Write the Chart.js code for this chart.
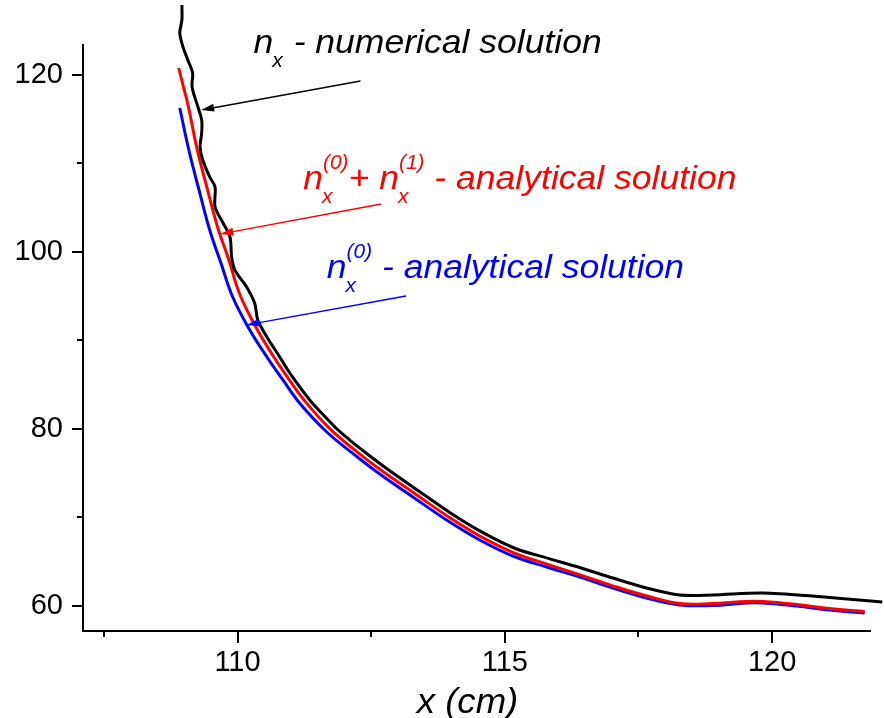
<!DOCTYPE html>
<html><head><meta charset="utf-8">
<script src="https://cdn.jsdelivr.net/npm/chart.js@4/dist/chart.umd.min.js"></script>
<style>html,body{margin:0;padding:0;background:#fff}#wrap{width:884px;height:718px}</style>
</head><body><div id="wrap"><canvas id="c" width="884" height="718"></canvas></div>
<script>
// ---- axis ticks ----
const xMajorTicks = [110, 115, 120];
const xMinorTicks = [107.5, 112.5, 117.5];
const yMajorTicks = [60, 80, 100, 120];
const yMinorTicks = [70, 90, 110];
const xRange = [107.11, 121.83];
const yRange = [57.14, 123.39];
const xTitle = 'x (cm)';

// ---- n_x numerical solution (black) ----
const numX = [108.96,108.96,108.92,108.98,109.07,109.16,109.15,109.26,109.33,109.33,109.30,109.35,109.48,109.58,109.58,109.73,109.86,109.89,109.95,110.17,110.32,110.38,110.55,110.79,110.94,111.11,111.35,111.59,111.84,112.10,112.38,112.75,113.36,113.99,114.60,115.21,115.83,116.40,117.02,117.65,118.27,118.88,119.82,120.75,122.06];
const numY = [127.91,126.22,124.75,123.17,121.70,120.23,118.64,116.38,114.91,113.44,111.86,110.39,108.47,107.34,105.08,103.27,101.68,99.42,97.95,96.03,94.22,92.30,90.38,88.12,86.65,85.18,83.26,81.67,80.09,78.73,77.38,75.68,73.08,70.46,68.23,66.44,65.32,64.32,63.13,62.00,61.21,61.21,61.44,61.10,60.42];

// ---- n_x^(0) + n_x^(1) analytical (red) ----
const corrX = [108.90,108.99,109.08,109.24,109.43,109.63,109.84,110.04,110.34,110.64,110.93,111.24,111.73,112.33,112.70,113.32,113.95,114.56,115.17,115.80,116.41,117.03,117.66,118.27,118.88,119.52,119.82,120.45,121.07,121.73];
const corrY = [120.79,118.64,116.47,111.74,107.25,102.76,99.06,95.24,91.53,88.49,85.88,83.28,80.00,76.94,75.26,72.66,70.03,67.78,65.98,64.68,63.48,62.22,61.09,60.25,60.25,60.47,60.47,60.14,59.68,59.34];

// ---- n_x^(0) analytical (blue) ----
const zeroX = [108.92,109.09,109.28,109.48,109.69,109.91,110.23,110.55,110.85,111.16,111.67,112.29,112.66,113.28,113.91,114.53,115.15,115.78,116.40,117.02,117.65,118.27,118.88,119.52,119.82,120.45,121.07,121.73];
const zeroY = [116.27,111.52,107.00,102.48,98.74,94.90,91.17,88.12,85.52,82.92,79.64,76.59,74.89,72.29,69.69,67.43,65.62,64.38,63.24,62.00,60.87,60.08,60.02,60.31,60.31,59.97,59.51,59.17];

// ---- annotation anchors (data units) ----
const noteAnchors = [
  {color:'#000000', x:110.30, y:122.49, parts:[['n'],['stack',null,'x'],[' - numerical solution']], tail:[112.30,119.32], tip:[109.32,116.04]},
  {color:'#ff0000', x:111.23, y:107.11, parts:[['n'],['stack','(0)','x'],['+ '],['n'],['stack','(1)','x'],[' - analytical solution']], tail:[112.69,105.42], tip:[109.68,102.02]},
  {color:'#0000ff', x:111.67, y:97.05, parts:[['n'],['stack','(0)','x'],[' - analytical solution']], tail:[113.15,95.01], tip:[110.17,91.74]}
];

const pts = (xs, ys) => xs.map((v, i) => ({x: v, y: ys[i]}));
const FAM = '"Liberation Sans", Arial, sans-serif';
const STRETCH = 1.045;

const decor = {
  id: 'decor',
  afterDatasetsDraw(chart) {
    const ctx = chart.ctx, xs = chart.scales.x, ys = chart.scales.y;
    const ca = chart.chartArea;
    ctx.save();
    ctx.strokeStyle = '#000'; ctx.lineWidth = 2; ctx.lineCap = 'butt';
    const tick = (x1, y1, x2, y2) => { ctx.beginPath(); ctx.moveTo(x1, y1); ctx.lineTo(x2, y2); ctx.stroke(); };
    xMajorTicks.forEach(v => { const p = Math.round(xs.getPixelForValue(v)); tick(p, ca.bottom, p, ca.bottom + 12); });
    xMinorTicks.forEach(v => { const p = Math.round(xs.getPixelForValue(v)); tick(p, ca.bottom, p, ca.bottom + 6); });
    yMajorTicks.forEach(v => { const p = Math.round(ys.getPixelForValue(v)); tick(ca.left - 11, p, ca.left, p); });
    yMinorTicks.forEach(v => { const p = Math.round(ys.getPixelForValue(v)); tick(ca.left - 6, p, ca.left, p); });

    // x axis title
    ctx.fillStyle = '#000';
    ctx.font = 'italic 35px ' + FAM;
    ctx.textBaseline = 'alphabetic'; ctx.textAlign = 'center';
    ctx.save();
    ctx.translate((ca.left + ca.right) / 2 - 9, ca.bottom + 82);
    ctx.scale(STRETCH, 1);
    ctx.fillText(xTitle, 0, 0);
    ctx.restore();

    // annotations
    noteAnchors.forEach(a => {
      ctx.fillStyle = a.color; ctx.strokeStyle = a.color;
      const ox = xs.getPixelForValue(a.x);
      const by = ys.getPixelForValue(a.y);
      ctx.save();
      ctx.translate(ox, by);
      ctx.scale(STRETCH, 1);
      ctx.textBaseline = 'alphabetic'; ctx.textAlign = 'left';
      let px = 0;
      a.parts.forEach(p => {
        if (p[0] === 'stack') {
          ctx.font = 'italic 20px ' + FAM;
          let w = 0;
          if (p[1]) { ctx.fillText(p[1], px, -20); w = Math.max(w, ctx.measureText(p[1]).width); }
          if (p[2]) { ctx.fillText(p[2], px - 1, 14); w = Math.max(w, ctx.measureText(p[2]).width); }
          px += w;
        } else {
          ctx.font = 'italic 34px ' + FAM;
          ctx.fillText(p[0], px, 0);
          px += ctx.measureText(p[0]).width;
        }
      });
      ctx.restore();
      // arrow
      const tx = xs.getPixelForValue(a.tail[0]), ty = ys.getPixelForValue(a.tail[1]);
      const hx = xs.getPixelForValue(a.tip[0]), hy = ys.getPixelForValue(a.tip[1]);
      const ang = Math.atan2(hy - ty, hx - tx);
      const L = 13, W = 4;
      const bx = hx - L * Math.cos(ang), byy = hy - L * Math.sin(ang);
      ctx.lineWidth = 1.5;
      ctx.beginPath(); ctx.moveTo(tx, ty); ctx.lineTo(bx, byy); ctx.stroke();
      ctx.beginPath();
      ctx.moveTo(hx, hy);
      ctx.lineTo(bx + W * Math.sin(ang), byy - W * Math.cos(ang));
      ctx.lineTo(bx - W * Math.sin(ang), byy + W * Math.cos(ang));
      ctx.closePath(); ctx.fill();
    });
    ctx.restore();
  }
};

new Chart(document.getElementById('c'), {
  type: 'scatter',
  data: {
    datasets: [
      {label: 'numerical', data: pts(numX, numY), borderColor: '#000000', order: 0, tension: 0.3},
      {label: 'n0+n1', data: pts(corrX, corrY), borderColor: '#ff0000', order: 1},
      {label: 'n0', data: pts(zeroX, zeroY), borderColor: '#0000ff', order: 2}
    ]
  },
  options: {
    responsive: false,
    devicePixelRatio: 1,
    animation: false,
    events: [],
    layout: {padding: {top: 45, right: 14, left: 0, bottom: 0}},
    datasets: {scatter: {showLine: true, pointRadius: 0, borderWidth: 3, tension: 0.4, fill: false, clip: false}},
    plugins: {legend: {display: false}, tooltip: {enabled: false}},
    scales: {
      x: {
        type: 'linear', min: xRange[0], max: xRange[1],
        afterBuildTicks: s => { s.ticks = xMajorTicks.map(v => ({value: v})); },
        afterFit: s => { s.height = 87; },
        grid: {display: false, drawTicks: false},
        border: {display: true, color: '#000', width: 2},
        ticks: {color: '#000', padding: 15, maxRotation: 0, font: {family: FAM, size: 29}, callback: v => String(v)},
        title: {display: false}
      },
      y: {
        type: 'linear', min: yRange[0], max: yRange[1],
        afterBuildTicks: s => { s.ticks = yMajorTicks.map(v => ({value: v})); },
        afterFit: s => { s.width = 83; },
        grid: {display: false, drawTicks: false},
        border: {display: true, color: '#000', width: 2},
        ticks: {color: '#000', padding: 20, font: {family: FAM, size: 29}, callback: v => String(v)}
      }
    }
  },
  plugins: [decor]
});
</script>
</body></html>
